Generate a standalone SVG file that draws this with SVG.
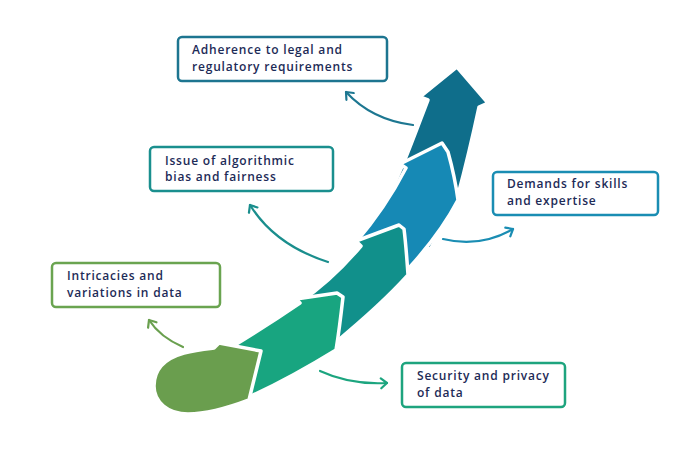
<svg xmlns="http://www.w3.org/2000/svg" width="700" height="450" viewBox="0 0 700 450">
<style>
.t{font-family:"Open Sans","Liberation Sans",Arial,sans-serif;font-size:12px;font-weight:600;fill:#1d2b57;letter-spacing:0.8px}
.box{fill:#ffffff;stroke-width:2.5}
.seg{stroke:#ffffff;stroke-width:3.5;stroke-linejoin:round}
.con{fill:none;stroke-width:2.2;stroke-linecap:round}
</style>
<defs>
<marker id="m1" viewBox="-8 -7 10 14" refX="0" refY="0" markerWidth="10" markerHeight="14" markerUnits="userSpaceOnUse" orient="auto"><path d="M-6,-5 L0,0 L-6,5" fill="none" stroke="#1d7791" stroke-width="2.2" stroke-linecap="round" stroke-linejoin="round"/></marker>
<marker id="m2" viewBox="-8 -7 10 14" refX="0" refY="0" markerWidth="10" markerHeight="14" markerUnits="userSpaceOnUse" orient="auto"><path d="M-6,-5 L0,0 L-6,5" fill="none" stroke="#1a8e8d" stroke-width="2.2" stroke-linecap="round" stroke-linejoin="round"/></marker>
<marker id="m3" viewBox="-8 -7 10 14" refX="0" refY="0" markerWidth="10" markerHeight="14" markerUnits="userSpaceOnUse" orient="auto"><path d="M-6,-5 L0,0 L-6,5" fill="none" stroke="#6aa04f" stroke-width="2.2" stroke-linecap="round" stroke-linejoin="round"/></marker>
<marker id="m4" viewBox="-8 -7 10 14" refX="0" refY="0" markerWidth="10" markerHeight="14" markerUnits="userSpaceOnUse" orient="auto"><path d="M-6,-5 L0,0 L-6,5" fill="none" stroke="#1ca57f" stroke-width="2.2" stroke-linecap="round" stroke-linejoin="round"/></marker>
<marker id="m5" viewBox="-8 -7 10 14" refX="0" refY="0" markerWidth="10" markerHeight="14" markerUnits="userSpaceOnUse" orient="auto"><path d="M-6,-5 L0,0 L-6,5" fill="none" stroke="#1a8db3" stroke-width="2.2" stroke-linecap="round" stroke-linejoin="round"/></marker>
</defs>
<rect width="700" height="450" fill="#ffffff"/>
<g id="big-arrow">
<path class="seg" fill="#0f6e8b" d="M457,67 L488,103 L479,107 C473,135 466,165 458,195 L430,250 L385,205 L404,162 C413,140 421,118 428,100 L420,97 Z"/>
<path class="seg" fill="#1689b5" d="M400,164 L442,143 L448,152 C453,170 456,185 458,200 C445,225 428,247 409,268 L380,262 L356,242 C375,220 392,195 406,168 Z"/>
<path class="seg" fill="#11908b" d="M356,241 L399,225 L404,229 C406,245 407,260 408,275 C390,295 365,318 336,342 L300,302 C325,285 345,265 361,246 Z"/>
<path class="seg" fill="#18a580" d="M296,299 L337,293 L343,297 C341,315 339,332 336,350 C310,366 282,382 251,396 L235,375 L230,348 C255,333 278,318 300,303 Z"/>
<path class="seg" fill="#6a9e4e" d="M219,343 L261,351 L249,400 C228,408 206,414 188,414 C168,414 154,402 154,386 C154,368 166,358 184,353 C195,350 205,349 214,348 Z"/>
</g>
<g id="connectors">
<path class="con" stroke="#1d7791" d="M413,125 Q372,120 346,92" marker-end="url(#m1)"/>
<path class="con" stroke="#1a8e8d" d="M328,262 Q275,245 250,205" marker-end="url(#m2)"/>
<path class="con" stroke="#6aa04f" d="M183,347 Q160,337 149,320" marker-end="url(#m3)"/>
<path class="con" stroke="#1ca57f" d="M320,371 Q350,385 387,383" marker-end="url(#m4)"/>
<path class="con" stroke="#1a8db3" d="M443,239 Q480,248 513,229" marker-end="url(#m5)"/>
</g>
<g id="node-legal">
<rect class="box" stroke="#1d7590" x="178" y="37" width="209" height="44" rx="4"/>
<text class="t" x="192" y="54">Adherence to legal and</text>
<text class="t" x="192" y="70.5">regulatory requirements</text>
</g>
<g id="node-bias">
<rect class="box" stroke="#1a8f8e" x="150" y="147" width="183" height="44" rx="4"/>
<text class="t" x="165" y="164.5">Issue of algorithmic</text>
<text class="t" x="165" y="181">bias and fairness</text>
</g>
<g id="node-data">
<rect class="box" stroke="#6aa450" x="52" y="263" width="168" height="44" rx="4"/>
<text class="t" x="67" y="280">Intricacies and</text>
<text class="t" x="67" y="296.5">variations in data</text>
</g>
<g id="node-security">
<rect class="box" stroke="#1ea47e" x="402" y="363" width="163" height="44" rx="4"/>
<text class="t" x="417" y="380">Security and privacy</text>
<text class="t" x="417" y="396.5">of data</text>
</g>
<g id="node-skills">
<rect class="box" stroke="#1a8db3" x="493" y="172" width="165" height="43" rx="4"/>
<text class="t" x="507" y="188">Demands for skills</text>
<text class="t" x="507" y="204.5">and expertise</text>
</g>
</svg>
